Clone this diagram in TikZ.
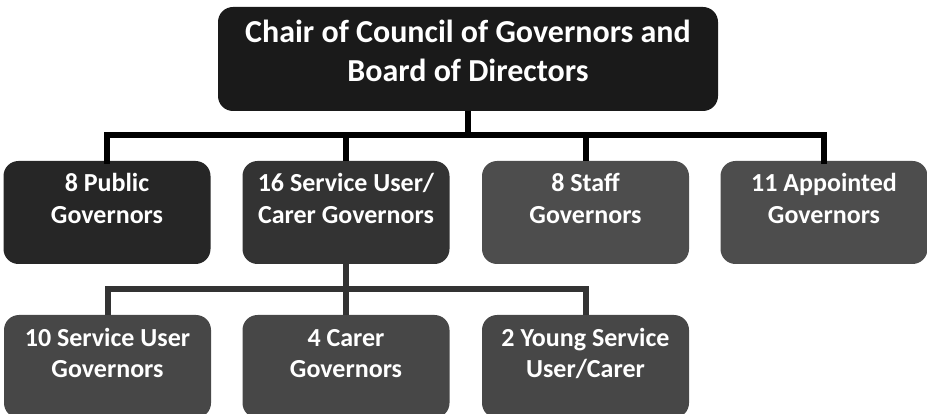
\documentclass[tikz,border=0pt]{standalone}
\usepackage{fontspec}
\setmainfont{Carlito}
\definecolor{chairgray}{HTML}{1A1A1A}
\definecolor{pubgray}{HTML}{262626}
\definecolor{svcgray}{HTML}{333333}
\definecolor{staffgray}{HTML}{4D4D4D}
\definecolor{subgray}{HTML}{474747}
\tikzset{
	govbox/.style={rectangle, rounded corners=15pt, inner sep=0pt, text=white, draw=none,
		font=\bfseries\fontsize{26}{31.7}\selectfont,
		execute at begin node={\begin{minipage}[c][103pt][t]{207pt}\centering\rule{0pt}{31pt}},
		execute at end node={\end{minipage}}},
	chairbox/.style={rectangle, rounded corners=15pt, inner sep=0pt, text=white, fill=chairgray,
		font=\bfseries\fontsize{32}{39}\selectfont,
		execute at begin node={\begin{minipage}[c][104pt][t]{500pt}\centering\rule{0pt}{36pt}},
		execute at end node={\end{minipage}}},
	toplink/.style={draw=black, line width=6pt},
	sublink/.style={draw=svcgray, line width=6pt}
}
\begin{document}
\begin{tikzpicture}[x=1pt,y=-1pt]
		\def\ya{212.5}
		\def\yb{366.5}
		\useasboundingbox (0,0) rectangle (927,414);
		\clip (0,0) rectangle (927,414);
		% top
		\node[chairbox] (chair) at (468,59) {Chair of Council of Governors and\\Board of Directors};
		% second row
		\node[govbox, fill=pubgray] (pub) at (107,\ya) {8 Public\\Governors};
		\node[govbox, fill=svcgray] (svc) at (346,\ya) {16 Service User/\\Carer Governors};
		\node[govbox, fill=staffgray] (staff) at (585.5,\ya) {8 Staff\\Governors};
		\node[govbox, fill=staffgray] (appt) at (824,\ya) {11 Appointed\\Governors};
		% third row
		\node[govbox, fill=subgray] (user) at (107.5,\yb) {10 Service User\\Governors};
		\node[govbox, fill=subgray] (carer) at (346,\yb) {4 Carer\\Governors};
		\node[govbox, fill=subgray] (young) at (585.5,\yb) {2 Young Service\\User/Carer};
		% connectors
		\coordinate (bus) at (468,135);
		\coordinate (subbus) at (346,289);
		\draw[toplink] (chair.south) -- (bus);
		\draw[toplink, line cap=rect] (bus) -| (pub.north);
		\draw[toplink] (bus) -| (svc.north);
		\draw[toplink] (bus) -| (staff.north);
		\draw[toplink, line cap=rect] (bus) -| (appt.north);
		\draw[sublink] (svc.south) -- (subbus);
		\draw[sublink] (subbus) -| (user.north);
		\draw[sublink] (subbus) -| (carer.north);
		\draw[sublink] (subbus) -| (young.north);
	\end{tikzpicture}
\end{document}
